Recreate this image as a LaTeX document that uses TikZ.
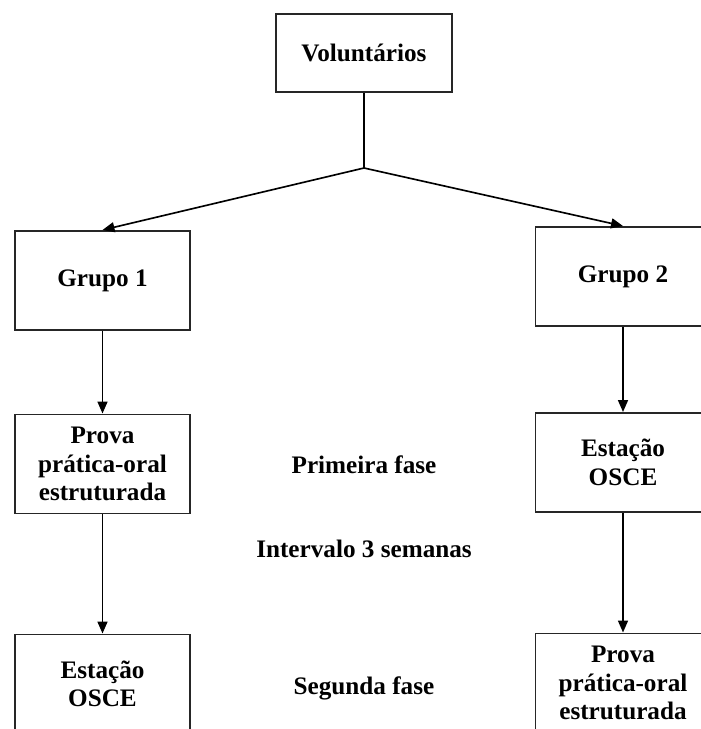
\documentclass[tikz,border=0pt]{standalone}
\usepackage{fontspec}
\setmainfont{Liberation Serif}
\usetikzlibrary{arrows.meta}
\tikzset{
 caixa/.style={draw, line width=1.4pt, color=black!85, text=black, align=center, inner sep=0pt, minimum width=5.26cm, minimum height=2.98cm, font=\tx},
 fase/.style={align=center, font=\tx},
 seta/.style={line width=1.4pt, -{Triangle[length=0.36cm,width=0.3cm]}}
}
\newcommand{\tx}{\fontsize{21.5}{24.3}\selectfont\bfseries}

\begin{document}
\begin{tikzpicture}[x=0.03cm, y=-0.03cm]
\useasboundingbox (0,0) rectangle (701,729);
\node[caixa, minimum width=5.28cm, minimum height=2.34cm] (vol) at (364,53) {Voluntários};
\node[caixa] (g1) at (102.5,280.5) {Grupo 1};
\node[caixa] (g2) at (623,276.5) {Grupo 2};
\node[caixa] (p1) at (102.5,464) {Prova\\prática-oral\\estruturada};
\node[caixa] (e2) at (623,462.5) {Estação\\OSCE};
\node[caixa] (e1) at (102.5,684) {Estação\\OSCE};
\node[caixa] (p2) at (623,683) {Prova\\prática-oral\\estruturada};

\node[fase] (f1) at (364,465) {Primeira fase};
\node[fase] (iv) at (364,549) {Intervalo 3 semanas};
\node[fase] (f2) at (364,688) {Segunda fase};

\coordinate (jun) at (364,168);
\draw[line width=1.4pt] (vol) -- (jun);
\draw[seta] (jun) -- (g1.north);
\draw[seta] (jun) -- (g2.north);
\draw[seta] (g1) -- (p1);
\draw[seta] (g2) -- (e2);
\draw[seta] (p1) -- (e1);
\draw[seta] (e2) -- (p2);
\end{tikzpicture}
\end{document}
